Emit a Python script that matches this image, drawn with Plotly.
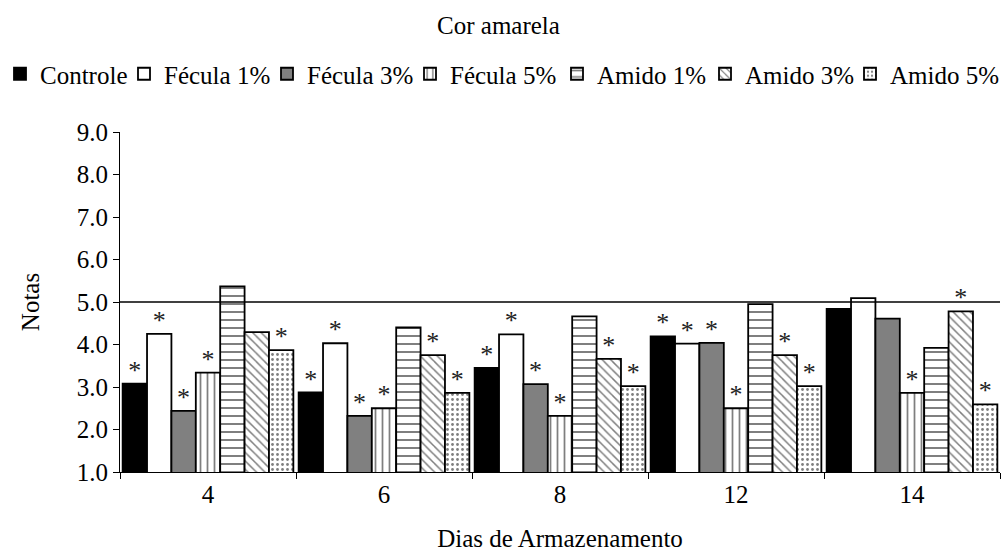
import plotly.graph_objects as go

# Storage days (x categories)
dias = ["4", "6", "8", "12", "14"]

# Sensory scores per treatment
controle = [3.08, 2.87, 3.45, 4.19, 4.84]
fecula_1 = [4.25, 4.03, 4.24, 4.02, 5.09]
fecula_3 = [2.44, 2.32, 3.07, 4.04, 4.61]
fecula_5 = [3.34, 2.50, 2.32, 2.50, 2.86]
amido_1 = [5.37, 4.40, 4.66, 4.95, 3.92]
amido_3 = [4.29, 3.75, 3.66, 3.75, 4.78]
amido_5 = [3.87, 2.86, 3.02, 3.02, 2.59]

# Significance flags (drawn as asterisks above the bars)
sig_controle = [1, 1, 1, 1, 0]
sig_fecula_1 = [1, 1, 1, 1, 0]
sig_fecula_3 = [1, 1, 1, 1, 0]
sig_fecula_5 = [1, 1, 1, 1, 1]
sig_amido_1 = [0, 0, 0, 0, 0]
sig_amido_3 = [0, 1, 1, 1, 1]
sig_amido_5 = [1, 1, 1, 1, 1]

# Reference score line
limite = 5.0

FONT = "Liberation Serif"
STAR_OFFSET = 0.27  # asterisk centre above the bar top, in score units

series = [
    ("Controle", controle, sig_controle, "black", "", 8),
    ("Fécula 1%", fecula_1, sig_fecula_1, "white", "", 8),
    ("Fécula 3%", fecula_3, sig_fecula_3, "#808080", "", 8),
    ("Fécula 5%", fecula_5, sig_fecula_5, "white", "|", 7),
    ("Amido 1%", amido_1, sig_amido_1, "white", "-", 8),
    ("Amido 3%", amido_3, sig_amido_3, "white", "\\", 6),
    ("Amido 5%", amido_5, sig_amido_5, "white", ".", 5),
]

# left edge (px) of each legend entry's text
legend_text_x = [35, 162, 305, 448, 595, 743, 888]

fig = go.Figure()
legend_layouts = {}
for i, (name, vals, sig, color, shape, size) in enumerate(series):
    lg = "legend" if i == 0 else f"legend{i + 1}"
    pattern = dict(shape=shape, fgcolor="black", bgcolor="white",
                   size=size, solidity=0.25) if shape else dict(shape="")
    fig.add_trace(go.Bar(
        name=name,
        x=dias,
        y=vals,
        legend=lg,
        marker=dict(color=color, line=dict(color="black", width=1.8),
                    pattern=pattern),
    ))
    legend_layouts[lg] = dict(
        orientation="h", xref="container", yref="container",
        x=max(legend_text_x[i] - 38, 0) / 1003, xanchor="left",
        y=1 - 74 / 560, yanchor="middle",
        font=dict(family=FONT, size=25, color="black"),
        itemwidth=30, bgcolor="rgba(0,0,0,0)",
    )

# asterisks, grouped the same way as the bars
for name, vals, sig, color, shape, size in series:
    fig.add_trace(go.Scatter(
        x=dias,
        y=[v + STAR_OFFSET for v in vals],
        mode="text",
        text=["*" if s else "" for s in sig],
        textposition="middle center",
        textfont=dict(family=FONT, size=26, color="#222222"),
        orientation="v",
        showlegend=False,
        hoverinfo="skip",
        cliponaxis=False,
    ))

fig.add_shape(type="line", xref="paper", x0=0, x1=1, yref="y",
              y0=limite, y1=limite, line=dict(color="black", width=1.5))

fig.update_layout(
    width=1003, height=560,
    barmode="group", bargap=0.03, bargroupgap=0,
    scattermode="group", scattergap=0.03,
    plot_bgcolor="white", paper_bgcolor="white",
    font=dict(family=FONT, size=25, color="black"),
    margin=dict(l=120, r=3, t=132, b=88),
    title=dict(text="Cor amarela", x=0.497, xref="container",
               xanchor="center", y=1 - 25 / 560, yref="container",
               yanchor="middle",
               font=dict(family=FONT, size=25, color="black")),
    showlegend=True,
    **legend_layouts,
)

fig.update_xaxes(
    type="category", showline=True, linecolor="black", linewidth=1,
    ticks="outside", tickson="boundaries", ticklen=6, tickcolor="black",
    showgrid=False,
    title=dict(text="Dias de Armazenamento", standoff=22,
               font=dict(family=FONT, size=25, color="black")),
    tickfont=dict(family=FONT, size=25, color="black"),
)
fig.update_yaxes(
    range=[1, 9], dtick=1, tickformat=".1f", showline=True,
    linecolor="black", linewidth=1, ticks="outside", ticklen=6,
    tickcolor="black", showgrid=False, zeroline=False,
    title=dict(text="Notas", standoff=30,
               font=dict(family=FONT, size=25, color="black")),
    tickfont=dict(family=FONT, size=25, color="black"),
)

fig.write_html("out.html")
